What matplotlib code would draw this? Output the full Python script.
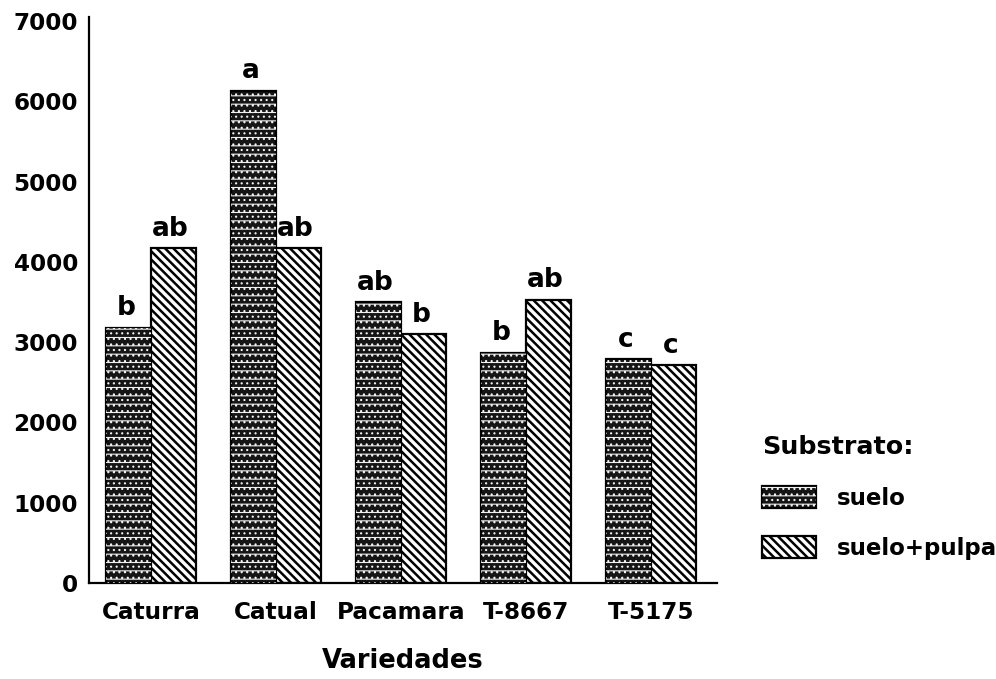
import matplotlib
matplotlib.use("Agg")
import matplotlib.pyplot as plt
from matplotlib.patches import Rectangle
import numpy as np

# Data
variedades = ["Caturra", "Catual", "Pacamara", "T-8667", "T-5175"]
suelo = [3180, 6130, 3500, 2865, 2790]
suelo_pulpa = [4170, 4170, 3100, 3525, 2715]
letras_suelo = ["b", "a", "ab", "b", "c"]
letras_pulpa = ["ab", "ab", "b", "ab", "c"]
yticks = [0, 1000, 2000, 3000, 4000, 5000, 6000, 7000]

plt.rcParams['font.family'] = ['DejaVu Sans']
plt.rcParams['font.weight'] = 'bold'

fig = plt.figure(figsize=(9.96, 6.79), dpi=100)
ax = fig.add_axes([89/996, 1 - 583/679, (717 - 89)/996, (583 - 17)/679])

x = np.arange(len(variedades))
w = 0.36
HATCH_S = 0.8
HATCH_P = 1.8

# suelo: dark fill with a fine light texture on top
plt.rcParams['hatch.linewidth'] = HATCH_S
b_s = ax.bar(x - w/2, suelo, w, color='#151515', edgecolor='black', lw=1.6, zorder=2)
b_sh = ax.bar(x - w/2, suelo, w, facecolor='none', edgecolor='#f0f0f0', hatch='--...',
              lw=0, zorder=3)
# suelo+pulpa: diagonal stripes
plt.rcParams['hatch.linewidth'] = HATCH_P
b_p = ax.bar(x + w/2, suelo_pulpa, w, facecolor='white', edgecolor='black',
             hatch='\\\\\\\\', lw=1.6, zorder=2)

for bar, txt in zip(b_s, letras_suelo):
    ax.annotate(txt, (bar.get_x() + bar.get_width()/2, bar.get_height()),
                xytext=(-2, 9), textcoords='offset points', ha='center',
                va='baseline', fontsize=19, fontweight='bold')
for bar, txt in zip(b_p, letras_pulpa):
    ax.annotate(txt, (bar.get_x() + bar.get_width()/2, bar.get_height()),
                xytext=(-2, 9), textcoords='offset points', ha='center',
                va='baseline', fontsize=19, fontweight='bold')

ax.set_xlim(-0.496, 4.528)
ax.set_ylim(0, 7050)
ax.set_xticks(x)
ax.set_xticklabels(variedades)
ax.set_yticks(yticks)
ax.tick_params(length=0, labelsize=16.7)
ax.tick_params(axis='y', pad=8)
ax.tick_params(axis='x', pad=13)
for s in ['top', 'right']:
    ax.spines[s].set_visible(False)
for s in ['left', 'bottom']:
    ax.spines[s].set_linewidth(1.6)
ax.set_xlabel("Variedades", fontsize=18.5, fontweight='bold', labelpad=17)

leg = fig.legend([(b_s[0], b_sh[0]), b_p[0]], ["suelo", "suelo+pulpa"],
                 title="Substrato:", loc='upper left',
                 bbox_to_anchor=(751/996, 1 - 424/679), frameon=False,
                 fontsize=16.5, title_fontproperties={'size': 18.3, 'weight': 'bold'},
                 handlelength=2.35, handleheight=1.1, handletextpad=0.9,
                 labelspacing=1.15, borderpad=0, alignment='left')
# legend copies get the current rc hatch width, put the right one back
for p in leg.findobj(Rectangle):
    h = p.get_hatch()
    if h and hasattr(p, 'set_hatch_linewidth'):
        p.set_hatch_linewidth(HATCH_P if '\\' in h else HATCH_S)

fig.savefig("out.png", dpi=100)
